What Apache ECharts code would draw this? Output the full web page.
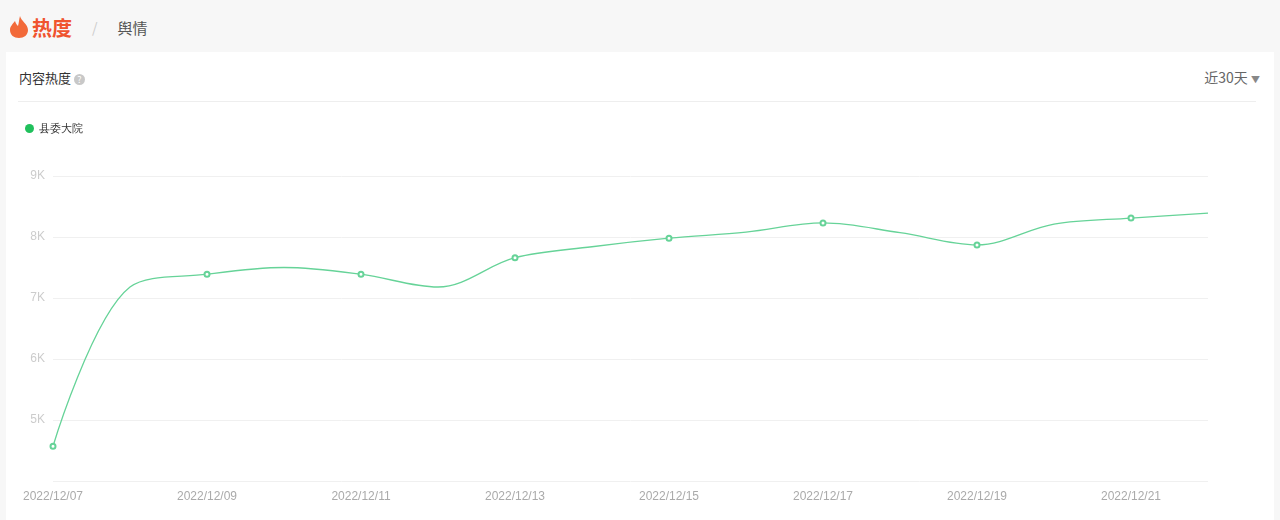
<!DOCTYPE html>
<html><head><meta charset="utf-8">
<script src="https://cdn.jsdelivr.net/npm/echarts@6/dist/echarts.min.js"></script>
<style>
body{margin:0;width:1280px;height:520px;background:#f7f7f7;font-family:"Noto Sans CJK SC",sans-serif;position:relative;overflow:hidden}
#card{position:absolute;left:6px;top:52px;width:1268px;height:468px;background:#fff}
#hd{position:absolute;left:8px;top:12px;height:30px;display:flex;align-items:center}
#chart{position:absolute;left:0;top:0;width:1280px;height:520px}
</style></head><body>
<div id="hd">
<svg width="22" height="24" viewBox="0 0 22 24"><path d="M12 1 C13 6 20 9 20 15 C20 20 16 23 11 23 C6 23 2 20 2 15 C2 11 5 9 7 6 C8 9 9 10 10 11 C11 8 11 4 12 1Z" fill="#f26a3a"/></svg>
<span style="color:#f0532e;font-size:20px;font-weight:bold;margin-left:2px">热度</span>
<span style="color:#ccc;font-size:14px;margin-left:20px">/</span>
<span style="color:#555;font-size:15px;margin-left:20px">舆情</span>
</div>
<div id="card">
<div style="position:absolute;left:13px;top:16px;font-size:13px;color:#333">内容热度 <span style="display:inline-block;width:11px;height:11px;border-radius:50%;background:#c8c8c8;color:#fff;font-size:9px;line-height:11px;text-align:center;vertical-align:0">?</span></div>
<div style="position:absolute;right:14px;top:15px;font-size:14px;color:#666">近30天 <span style="font-size:9px;color:#888">▼</span></div>
<div style="position:absolute;left:12px;right:18px;top:49px;height:1px;background:#eee"></div>
</div>
<div id="chart"></div>
<script>
const categories=["2022/12/07","2022/12/08","2022/12/09","2022/12/10","2022/12/11","2022/12/12","2022/12/13","2022/12/14","2022/12/15","2022/12/16","2022/12/17","2022/12/18","2022/12/19","2022/12/20","2022/12/21","2022/12/22"];
const values=[4570,7180,7390,7500,7390,7180,7660,7840,7980,8080,8230,8070,7870,8210,8310,8390];
const seriesName="县委大院";
const c=echarts.init(document.getElementById('chart'));
c.setOption({
 legend:{left:20,top:118,icon:'circle',itemWidth:9,itemHeight:9,itemGap:4,textStyle:{fontSize:11,color:'#333'},data:[{name:seriesName,itemStyle:{color:'#20c05c'}}]},
 grid:{left:53,right:72,top:176,bottom:39},
 xAxis:{type:'category',data:categories,boundaryGap:false,axisLine:{show:false},axisTick:{show:false},axisLabel:{color:'#aaa',fontSize:12,interval:1,margin:10}},
 yAxis:{type:'value',min:4000,max:9000,interval:1000,axisLabel:{color:'#ccc',fontSize:12,formatter:v=>v===4000?'':(v/1000)+'K'},splitLine:{lineStyle:{color:'#f0f0f0'}}},
 series:[{name:seriesName,type:'line',data:values,smooth:0.35,symbol:(v,p)=>p.dataIndex%2?'none':'emptyCircle',symbolSize:5,showAllSymbol:true,lineStyle:{color:'#66d398',width:1.3},itemStyle:{color:'#66d398',borderWidth:1}}]
});
</script></body></html>
